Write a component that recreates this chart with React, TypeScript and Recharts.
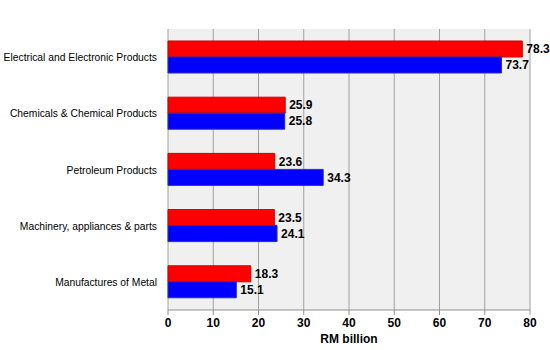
import React from "react";
import { BarChart, Bar, XAxis, YAxis, CartesianGrid, LabelList } from "recharts";

const categories = [
  "Electrical and Electronic Products",
  "Chemicals & Chemical Products",
  "Petroleum Products",
  "Machinery, appliances & parts",
  "Manufactures of Metal",
];
const redValues = [78.3, 25.9, 23.6, 23.5, 18.3];
const blueValues = [73.7, 25.8, 34.3, 24.1, 15.1];
const xTicks = [0, 10, 20, 30, 40, 50, 60, 70, 80];

const data = categories.map((name, i) => ({ name, red: redValues[i], blue: blueValues[i] }));

const font = "'Liberation Sans', Arial, sans-serif";

// plain one-line tick, recharts would wrap the long names otherwise
const CategoryTick = (props: any) => {
  const { x, y, payload } = props;
  return (
    <text x={x - 3} y={y} dy={4} textAnchor="end" fill="#000" fontSize={10.3} fontFamily={font}>
      {payload.value}
    </text>
  );
};

const App = () => {
  return (
    <div style={{ position: "absolute", left: 0, top: 0, width: 550, height: 350, background: "#fff", fontFamily: font }}>
      <BarChart
        width={550}
        height={350}
        data={data}
        layout="vertical"
        margin={{ top: 29, right: 20, bottom: 0, left: 0 }}
        barGap={0}
        barSize={16}
      >
        <CartesianGrid horizontal={false} stroke="#a0a0a0" fill="#f0f0f0" strokeDasharray="" />
        <XAxis
          type="number"
          domain={[0, 80]}
          ticks={xTicks}
          height={40}
          stroke="#909090"
          tickSize={5}
          tickMargin={3}
          tick={{ fill: "#000", fontSize: 12, fontWeight: "bold", fontFamily: font }}
          label={{ value: "RM billion", position: "insideBottom", offset: 7, fill: "#000", fontSize: 12, fontWeight: "bold", fontFamily: font }}
        />
        <YAxis
          type="category"
          dataKey="name"
          width={168}
          axisLine={false}
          tickLine={false}
          tick={<CategoryTick />}
        />
        <Bar dataKey="red" fill="#ff0000" stroke="#c80000" strokeWidth={1} isAnimationActive={false}>
          <LabelList dataKey="red" position="right" offset={4} fill="#000" fontSize={12} fontWeight="bold" fontFamily={font} />
        </Bar>
        <Bar dataKey="blue" fill="#0000ff" stroke="#3030a0" strokeWidth={1} isAnimationActive={false}>
          <LabelList dataKey="blue" position="right" offset={4} fill="#000" fontSize={12} fontWeight="bold" fontFamily={font} />
        </Bar>
      </BarChart>
    </div>
  );
};

export default App;
